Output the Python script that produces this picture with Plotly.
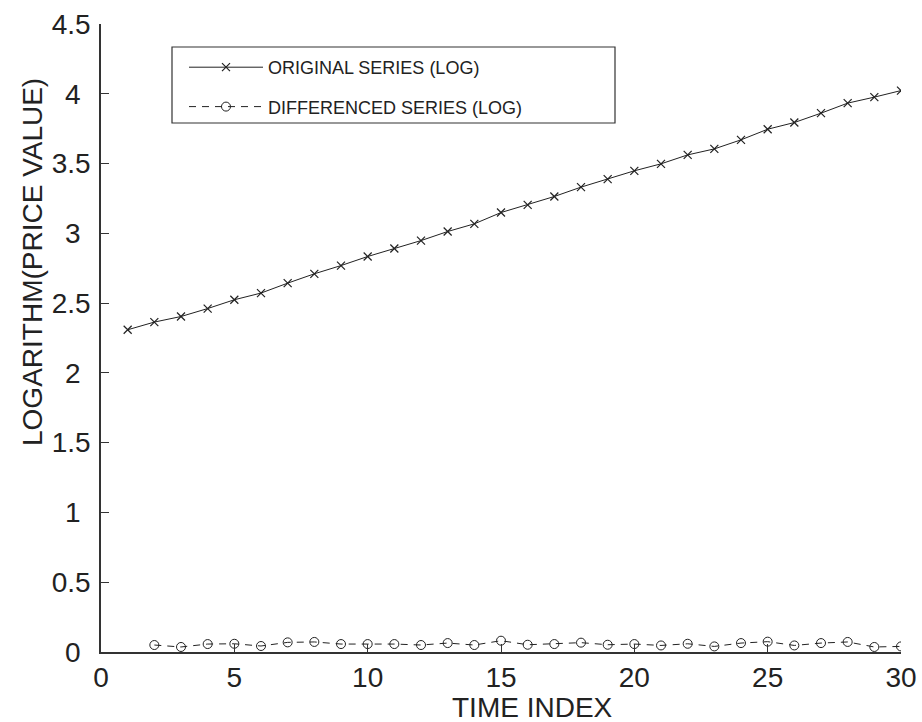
import plotly.graph_objects as go

time_orig = list(range(1, 31))
log_orig = [2.309, 2.364, 2.404, 2.461, 2.524, 2.572, 2.643, 2.710, 2.769, 2.834,
            2.891, 2.948, 3.013, 3.068, 3.149, 3.204, 3.264, 3.331, 3.388, 3.448,
            3.498, 3.562, 3.605, 3.670, 3.746, 3.794, 3.861, 3.933, 3.976, 4.023]

time_diff = list(range(2, 31))
log_diff = [0.050, 0.036, 0.057, 0.059, 0.043, 0.069, 0.072, 0.057, 0.057,
            0.057, 0.050, 0.064, 0.050, 0.081, 0.052, 0.057, 0.067, 0.052, 0.057,
            0.047, 0.059, 0.040, 0.064, 0.074, 0.047, 0.064, 0.072, 0.036, 0.040]

x_ticks = [0, 5, 10, 15, 20, 25, 30]
y_ticks = [0, 0.5, 1, 1.5, 2, 2.5, 3, 3.5, 4, 4.5]
y_tick_text = ["0", "0.5", "1", "1.5", "2", "2.5", "3", "3.5", "4", "4.5"]

FONT = "Liberation Sans, Arial, sans-serif"
INK = "#222222"
AX = "#333333"

# plot area in pixels
L, R, T, B = 101, 901, 24, 652
W, H = R - L, B - T
def px(x):
    return (x - L) / W
def py(y):
    return (B - y) / H

# short tick labels are centred like the reference
y_tick_disp = [t if len(t) > 1 else t + "\u00a0\u200a" for t in y_tick_text]

fig = go.Figure()
fig.add_trace(go.Scatter(
    x=time_orig, y=log_orig, mode="lines+markers",
    name="ORIGINAL SERIES (LOG)", legendgroup="a",
    line=dict(color=INK, width=1),
    marker=dict(symbol="x-thin", size=8, line=dict(color=INK, width=1.2), color=INK),
))
fig.add_trace(go.Scatter(
    x=time_diff, y=log_diff, mode="lines+markers",
    name="DIFFERENCED SERIES (LOG)", legendgroup="b",
    line=dict(color=INK, width=1, dash="7px,6px"),
    marker=dict(symbol="circle-open", size=9, line=dict(color=INK, width=1), color=INK),
))

# legend box
fig.add_shape(type="rect", xref="paper", yref="paper",
              x0=px(172), x1=px(615), y0=py(123), y1=py(47),
              line=dict(color=AX, width=1.2), fillcolor="white", layer="below")

# axis titles (offset like the reference)
fig.add_annotation(text="TIME INDEX", xref="paper", yref="paper",
                   x=px(532), y=py(707), xanchor="center", yanchor="middle",
                   showarrow=False, font=dict(size=28, family=FONT, color=INK))
fig.add_annotation(text="LOGARITHM(PRICE VALUE)", xref="paper", yref="paper",
                   x=px(32), y=py(262), xanchor="center", yanchor="middle", textangle=-90,
                   showarrow=False, font=dict(size=28, family=FONT, color=INK))

fig.update_layout(
    width=922, height=722,
    margin=dict(l=L, r=922 - R, t=T, b=722 - B),
    paper_bgcolor="white", plot_bgcolor="white",
    font=dict(family=FONT, color=INK),
    showlegend=True,
    legend=dict(
        x=px(184), y=py(49), xanchor="left", yanchor="top",
        borderwidth=0, bgcolor="rgba(0,0,0,0)",
        font=dict(size=18, family=FONT, color=INK),
        tracegroupgap=13, itemwidth=74,
    ),
    xaxis=dict(
        range=[0, 30], tickvals=x_ticks, ticktext=[str(v) for v in x_ticks],
        showgrid=False, zeroline=False, showline=True, linecolor=AX, linewidth=1.5,
        ticks="inside", ticklen=8, tickwidth=1, tickcolor=AX,
        tickfont=dict(size=28, family=FONT, color=INK),
        mirror=False, automargin=False,
    ),
    yaxis=dict(
        range=[0, 4.5], tickvals=y_ticks, ticktext=y_tick_disp,
        showgrid=False, zeroline=False, showline=True, linecolor=AX, linewidth=1.5,
        ticks="inside", ticklen=8, tickwidth=1, tickcolor=AX,
        tickfont=dict(size=28, family=FONT, color=INK),
        ticklabelstandoff=3,
        mirror=False, automargin=False,
    ),
)

fig.write_html("out.html")
